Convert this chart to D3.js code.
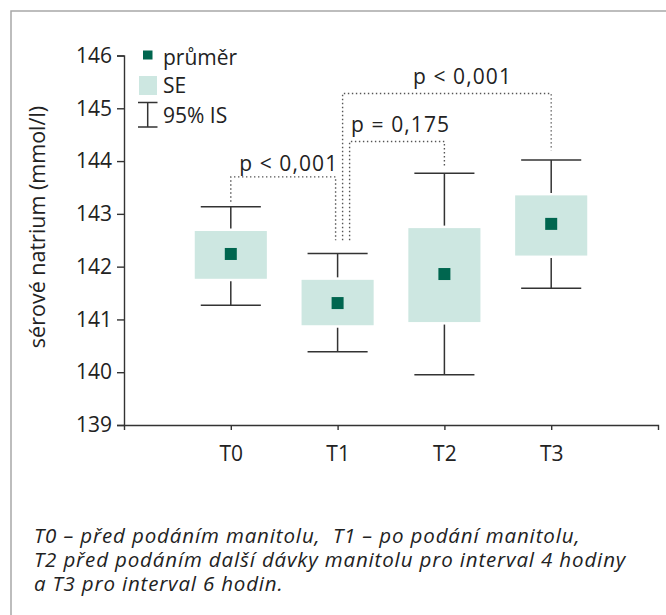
<!DOCTYPE html>
<html>
<head>
<meta charset="utf-8">
<script src="https://cdn.jsdelivr.net/npm/d3@7"></script>
<style>
  body { margin: 0; background: #fff; }
  svg text { font-family: "Open Sans", sans-serif; fill: #222; }
</style>
</head>
<body>
<div id="chart"></div>
<script>
// časové body a hodnoty (mmol/l)
const categories = ["T0", "T1", "T2", "T3"];
const means   = [142.24, 141.31, 141.86, 142.81];
const seLow   = [141.77, 140.89, 140.95, 142.21];
const seHigh  = [142.675, 141.75, 142.73, 143.35];
const ciLow   = [141.27, 140.39, 139.95, 141.59];
const ciHigh  = [143.135, 142.25, 143.77, 144.02];
const yTicks  = [139, 140, 141, 142, 143, 144, 145, 146];

// srovnání (p hodnoty)
const pairs       = [["T0", "T1"], ["T1", "T2"], ["T1", "T3"]];
const pLabels     = ["p < 0,001", "p = 0,175", "p < 0,001"];
const pLevels     = [143.70, 144.37, 145.28];
const pStartEnds  = [143.23, 142.50, 142.50];
const pFinishEnds = [142.50, 143.90, 144.20];

const caption = [
  "T0 \u2013 před podáním manitolu,  T1 \u2013 po podání manitolu,",
  "T2 před podáním další dávky manitolu pro interval 4 hodiny",
  "a T3 pro interval 6 hodin."
];

const W = 666, H = 615;
const svg = d3.select("#chart").append("svg")
  .attr("width", W).attr("height", H);

// rámeček
svg.append("rect")
  .attr("x", 11).attr("y", 11)
  .attr("width", W).attr("height", H)
  .attr("fill", "none")
  .attr("stroke", "#a8a8a8")
  .attr("stroke-width", 1.5);

const x = d3.scalePoint().domain(categories).range([124, 658]).padding(1);
const y = d3.scaleLinear().domain([139, 146]).range([425, 55.5]);
const step = x.step();

// osy
const yAxis = svg.append("g")
  .attr("transform", "translate(124,0)")
  .call(d3.axisLeft(y).tickValues(yTicks).tickFormat(d3.format("d")).tickSize(7).tickPadding(5));
const xAxis = svg.append("g")
  .attr("transform", "translate(0,425)")
  .call(d3.axisBottom(x).tickSize(5).tickSizeOuter(5).tickPadding(10));
[yAxis, xAxis].forEach(g => {
  g.selectAll("path, line").attr("stroke", "#333").attr("stroke-width", 1.4);
  g.selectAll("text").attr("font-size", 21).attr("fill", "#222")
    .style("font-family", "'Open Sans', sans-serif");
});
xAxis.selectAll("text").attr("dy", "1em");

svg.append("text")
  .attr("transform", "translate(45,227) rotate(-90)")
  .attr("text-anchor", "middle")
  .attr("font-size", 21.5)
  .text("sérové natrium (mmol/l)");

// 95% IS
const capW = step * 0.5625, boxW = step * 0.675, gap = 2.5;
const g = svg.append("g");
categories.forEach((c, i) => {
  const cx = x(c);
  g.append("line").attr("x1", cx).attr("x2", cx)
    .attr("y1", y(ciHigh[i])).attr("y2", y(seHigh[i]) - gap);
  g.append("line").attr("x1", cx).attr("x2", cx)
    .attr("y1", y(seLow[i]) + gap).attr("y2", y(ciLow[i]));
  [ciHigh[i], ciLow[i]].forEach(v => {
    g.append("line").attr("x1", cx - capW / 2).attr("x2", cx + capW / 2)
      .attr("y1", y(v)).attr("y2", y(v));
  });
});
g.selectAll("line").attr("stroke", "#333").attr("stroke-width", 1.5);

// SE
svg.append("g").selectAll("rect")
  .data(categories)
  .join("rect")
  .attr("x", d => x(d) - boxW / 2)
  .attr("width", boxW)
  .attr("y", (d, i) => y(seHigh[i]))
  .attr("height", (d, i) => y(seLow[i]) - y(seHigh[i]))
  .attr("fill", "#cde7e1");

// průměr
const ms = 12;
svg.append("g").selectAll("rect")
  .data(categories)
  .join("rect")
  .attr("x", d => x(d) - ms / 2)
  .attr("y", (d, i) => y(means[i]) - ms / 2)
  .attr("width", ms).attr("height", ms)
  .attr("fill", "#00664f");

// závorky s p hodnotami
const startDx = [0, 12, 5];
const endDx = [-2, 0, 0];
const labelDx = [5, 3, 15];
const labelDy = [-6, -10, -10];
const bg = svg.append("g");
pairs.forEach((p, i) => {
  const x1 = x(p[0]) + startDx[i], x2 = x(p[1]) + endDx[i];
  const yl = y(pLevels[i]);
  bg.append("path")
    .attr("d", d3.line()([[x1, y(pStartEnds[i])], [x1, yl], [x2, yl], [x2, y(pFinishEnds[i])]]))
    .attr("fill", "none")
    .attr("stroke", "#555")
    .attr("stroke-width", 1.4)
    .attr("stroke-dasharray", "1.4,2.6");
  bg.append("text")
    .attr("x", (x1 + x2) / 2 + labelDx[i])
    .attr("y", yl + labelDy[i])
    .attr("text-anchor", "middle")
    .attr("font-size", 21)
    .attr("textLength", 98)
    .attr("lengthAdjust", "spacing")
    .text(pLabels[i]);
});

// legenda
const lg = svg.append("g");
lg.append("rect").attr("x", 143).attr("y", 50.5).attr("width", 9.5).attr("height", 9)
  .attr("fill", "#00664f");
lg.append("rect").attr("x", 139).attr("y", 76).attr("width", 18).attr("height", 19)
  .attr("fill", "#cde7e1");
lg.append("path").attr("d", "M138,102.5H157.5M147.7,102.5V127M138,127H157.5")
  .attr("fill", "none").attr("stroke", "#333").attr("stroke-width", 1.5);
["průměr", "SE", "95% IS"].forEach((t, i) => {
  lg.append("text").attr("x", 163).attr("y", [65, 93, 123][i])
    .attr("font-size", 21).text(t);
});

// popisek
svg.append("g").selectAll("text")
  .data(caption)
  .join("text")
  .attr("x", 34)
  .attr("y", (d, i) => 543 + i * 24)
  .attr("font-size", 20.5)
  .attr("font-style", "italic")
  .style("white-space", "pre")
  .text(d => d)
  .each(function () {
    const len = this.getComputedTextLength();
    d3.select(this).attr("textLength", len * 1.09).attr("lengthAdjust", "spacing");
  });
</script>
</body>
</html>
